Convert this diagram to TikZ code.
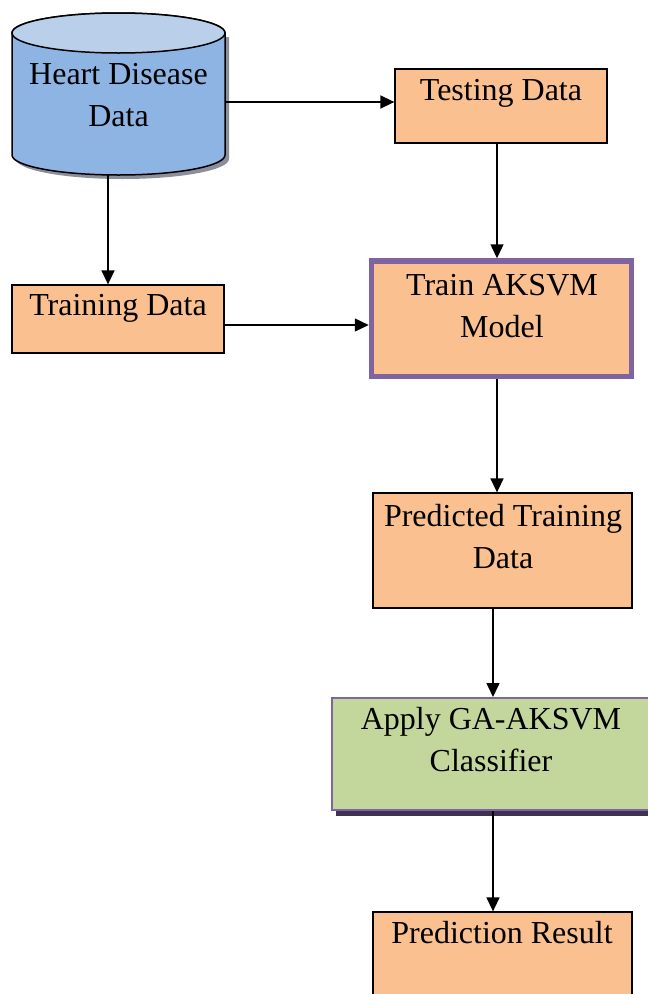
\documentclass[tikz,border=0pt]{standalone}
\usepackage{fontspec}
\setmainfont{Liberation Serif}
\usetikzlibrary{arrows.meta,calc}
\definecolor{orangefill}{HTML}{FAC090}
\definecolor{bluebody}{HTML}{8EB4E3}
\definecolor{bluetop}{HTML}{BACFEA}
\definecolor{greenfill}{HTML}{C3D69B}
\definecolor{purpleline}{HTML}{8064A2}
\definecolor{darkshadow}{HTML}{3F3151}
\definecolor{greyshadow}{HTML}{8A8F99}
\tikzset{
  box/.style={rectangle, draw=black, line width=1.3pt, fill=orangefill, inner sep=0pt},
  label/.style={anchor=base, align=center, inner sep=0pt, font=\fontsize{32}{42}\selectfont},
  arr/.style={line width=1.5pt, -{Triangle[length=14pt,width=13pt]}},
}
\begin{document}
\begin{tikzpicture}[x=1pt,y=-1pt]
\useasboundingbox (0,0) rectangle (648,994);
% cylinder
\fill[greyshadow] (16,37) -- (16,159) arc[start angle=180,end angle=0,x radius=106.5,y radius=20] -- (229,37) -- cycle;
\node[rectangle, inner sep=0pt, minimum width=213pt, minimum height=162pt] (db) at (118.5,94) {};
\draw[line width=1.5pt, fill=bluebody] (12,33) -- (12,155) arc[start angle=180,end angle=0,x radius=106.5,y radius=20] -- (225,33) arc[start angle=0,end angle=-180,x radius=106.5,y radius=20] -- cycle;
\draw[line width=1.5pt, fill=bluetop] (118.5,33) ellipse[x radius=106.5,y radius=20];
\node[label] (dbtext) at (118.5,126) {Heart Disease\\Data};
% boxes
\node[box, minimum width=212pt, minimum height=74pt] (test) at (501,106) {};
\node[label] (testtext) at (501,100) {Testing Data};
\node[box, minimum width=212pt, minimum height=68pt] (train) at (118,319) {};
\node[label] (traintext) at (118,315) {Training Data};
\node[box, draw=purpleline, line width=5.5pt, minimum width=260pt, minimum height=115.5pt] (model) at (501.5,318.75) {};
\node[label] (modeltext) at (502,337) {Train AKSVM\\Model};
\node[box, minimum width=259pt, minimum height=115pt] (pred) at (502.5,550.5) {};
\node[label] (predtext) at (503,568) {Predicted Training\\Data};
\fill[darkshadow] (336,703) rectangle (656,816);
\node[box, draw=purpleline, line width=2pt, fill=greenfill, minimum width=320pt, minimum height=112pt] (apply) at (492,754) {};
\node[label] (applytext) at (491,771) {Apply GA-AKSVM\\Classifier};
\node[box, minimum width=259pt, minimum height=98pt] (result) at (502.5,961) {};
\node[label] (resulttext) at (502,943) {Prediction Result};
% connectors
\draw[arr] ([yshift=4pt]db.east |- test.west) -- ([yshift=4pt]test.west);
\draw[arr] ([xshift=-10.5pt]db.south) -- ([xshift=-10.5pt]db.south |- train.north);
\draw[arr] ([xshift=-4pt]test.south) -- ([xshift=-4pt]test.south |- model.north);
\draw[arr] ([yshift=-6pt]train.east) -- ([yshift=-6pt]train.east -| model.west);
\draw[arr] ([xshift=-4.5pt]model.south) -- ([xshift=-4.5pt]model.south |- pred.north);
\draw[arr] ([xshift=-9.5pt]pred.south) -- ([xshift=-9.5pt]pred.south |- apply.north);
\draw[arr] ([xshift=1pt]apply.south) -- ([xshift=1pt]apply.south |- result.north);
\end{tikzpicture}
\end{document}
